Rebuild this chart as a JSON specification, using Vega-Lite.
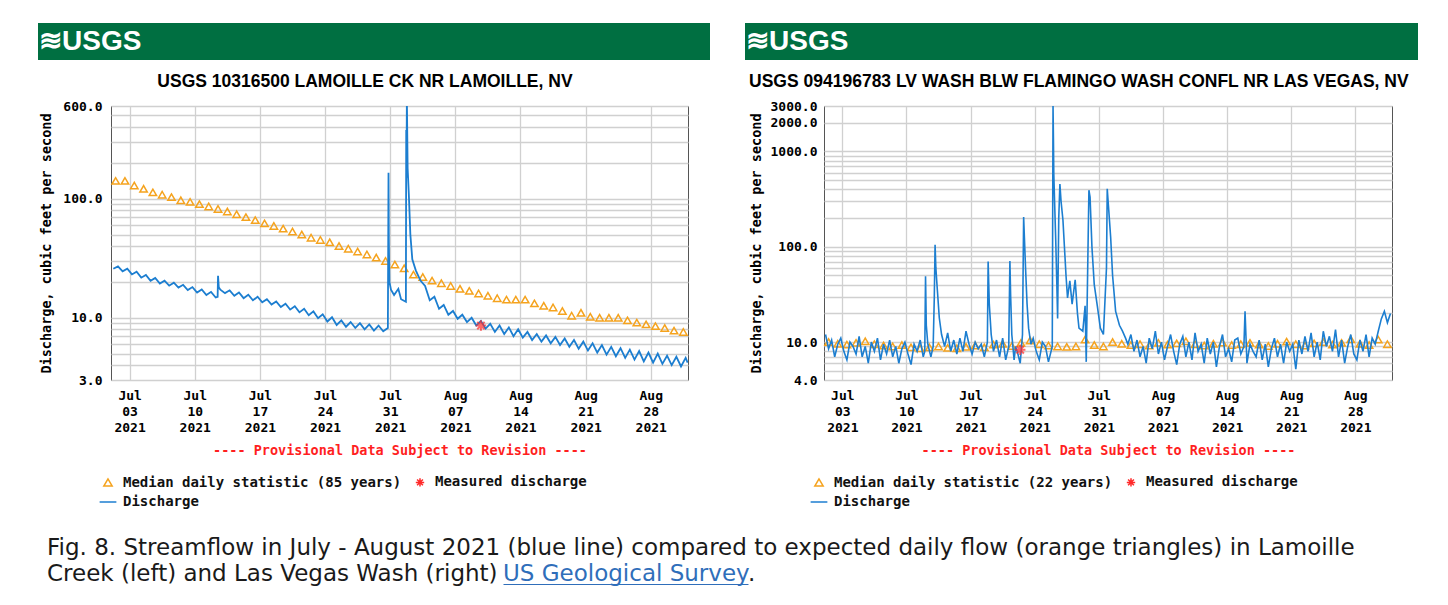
{
"$schema": "https://vega.github.io/schema/vega-lite/v6.json",
"background": "white",
"padding": {"left": 38, "top": 23, "right": 10, "bottom": 5},
"config": {
  "view": {"stroke": "#555", "strokeWidth": 1},
  "axis": {"labelFont": "DejaVu Sans Mono", "labelFontWeight": "bold", "labelColor": "#000", "titleFont": "DejaVu Sans Mono", "titleFontWeight": "bold", "titleColor": "#000", "ticks": false, "domain": false, "gridColor": "#d0d0d0", "gridWidth": 1.3, "labelOverlap": false},
  "legend": {"labelFont": "DejaVu Sans Mono", "labelFontWeight": "bold", "labelFontSize": 14, "labelColor": "#111", "labelLimit": 500}
},
"datasets": {
"qL": [
{"t":"2021-07-01T06:00","q":25.8},{"t":"2021-07-01T18:00","q":27.0},
{"t":"2021-07-02T06:00","q":24.5},{"t":"2021-07-02T18:00","q":25.8},
{"t":"2021-07-03T06:00","q":23.1},{"t":"2021-07-03T18:00","q":24.4},
{"t":"2021-07-04T06:00","q":21.7},{"t":"2021-07-04T18:00","q":22.9},
{"t":"2021-07-05T06:00","q":20.4},{"t":"2021-07-05T18:00","q":21.6},
{"t":"2021-07-06T06:00","q":19.4},{"t":"2021-07-06T18:00","q":20.5},
{"t":"2021-07-07T06:00","q":18.6},{"t":"2021-07-07T18:00","q":19.7},
{"t":"2021-07-08T06:00","q":17.9},{"t":"2021-07-08T18:00","q":18.9},
{"t":"2021-07-09T06:00","q":17.1},{"t":"2021-07-09T18:00","q":18.1},
{"t":"2021-07-10T06:00","q":16.3},{"t":"2021-07-10T18:00","q":17.3},
{"t":"2021-07-11T06:00","q":15.5},{"t":"2021-07-11T18:00","q":16.5},
{"t":"2021-07-12T06:00","q":14.8},{"t":"2021-07-12T11:00","q":15.0},{"t":"2021-07-12T12:00","q":22.5},{"t":"2021-07-12T14:00","q":18.0},{"t":"2021-07-12T18:00","q":17.2},
{"t":"2021-07-13T06:00","q":16.1},{"t":"2021-07-13T18:00","q":17.0},
{"t":"2021-07-14T06:00","q":15.3},{"t":"2021-07-14T18:00","q":16.3},
{"t":"2021-07-15T06:00","q":14.6},{"t":"2021-07-15T18:00","q":15.6},
{"t":"2021-07-16T06:00","q":14.0},{"t":"2021-07-16T18:00","q":15.0},
{"t":"2021-07-17T06:00","q":13.5},{"t":"2021-07-17T18:00","q":14.3},
{"t":"2021-07-18T06:00","q":12.9},{"t":"2021-07-18T18:00","q":13.7},
{"t":"2021-07-19T06:00","q":12.3},{"t":"2021-07-19T18:00","q":13.1},
{"t":"2021-07-20T06:00","q":11.7},{"t":"2021-07-20T18:00","q":12.5},
{"t":"2021-07-21T06:00","q":11.1},{"t":"2021-07-21T18:00","q":11.9},
{"t":"2021-07-22T06:00","q":10.5},{"t":"2021-07-22T18:00","q":11.3},
{"t":"2021-07-23T06:00","q":9.9},{"t":"2021-07-23T18:00","q":10.7},
{"t":"2021-07-24T06:00","q":9.3},{"t":"2021-07-24T18:00","q":10.1},
{"t":"2021-07-25T06:00","q":8.7},{"t":"2021-07-25T18:00","q":9.5},
{"t":"2021-07-26T06:00","q":8.4},{"t":"2021-07-26T18:00","q":9.2},
{"t":"2021-07-27T06:00","q":8.2},{"t":"2021-07-27T18:00","q":9.0},
{"t":"2021-07-28T06:00","q":8.0},{"t":"2021-07-28T18:00","q":8.8},
{"t":"2021-07-29T06:00","q":7.8},{"t":"2021-07-29T18:00","q":8.6},
{"t":"2021-07-30T06:00","q":7.7},{"t":"2021-07-30T18:00","q":8.2},{"t":"2021-07-30T19:40","q":165},{"t":"2021-07-30T20:30","q":45},{"t":"2021-07-30T22:00","q":20},
{"t":"2021-07-31T02:00","q":17.2},{"t":"2021-07-31T10:00","q":15.5},{"t":"2021-07-31T21:00","q":17.5},
{"t":"2021-08-01T04:00","q":14.3},{"t":"2021-08-01T16:30","q":13.6},{"t":"2021-08-01T17:20","q":378},{"t":"2021-08-01T18:00","q":150},{"t":"2021-08-01T19:00","q":700},{"t":"2021-08-01T21:00","q":180},
{"t":"2021-08-02T00:00","q":110},{"t":"2021-08-02T04:00","q":50},{"t":"2021-08-02T09:00","q":31},{"t":"2021-08-02T18:00","q":25},
{"t":"2021-08-03T06:00","q":20.5},{"t":"2021-08-03T18:00","q":18.5},
{"t":"2021-08-04T06:00","q":14.0},{"t":"2021-08-04T18:00","q":15.0},
{"t":"2021-08-05T06:00","q":11.9},{"t":"2021-08-05T18:00","q":12.8},
{"t":"2021-08-06T06:00","q":10.6},{"t":"2021-08-06T18:00","q":11.4},
{"t":"2021-08-07T06:00","q":9.8},{"t":"2021-08-07T18:00","q":10.6},
{"t":"2021-08-08T06:00","q":9.2},{"t":"2021-08-08T18:00","q":10.0},
{"t":"2021-08-09T06:00","q":8.6},{"t":"2021-08-09T18:00","q":9.4},
{"t":"2021-08-10T06:00","q":8.1},{"t":"2021-08-10T18:00","q":8.9},
{"t":"2021-08-11T06:00","q":7.6},{"t":"2021-08-11T18:00","q":8.6},
{"t":"2021-08-12T06:00","q":7.3},{"t":"2021-08-12T18:00","q":8.3},
{"t":"2021-08-13T06:00","q":7.0},{"t":"2021-08-13T18:00","q":8.0},
{"t":"2021-08-14T06:00","q":6.8},{"t":"2021-08-14T18:00","q":7.6},
{"t":"2021-08-15T06:00","q":6.5},{"t":"2021-08-15T18:00","q":7.3},
{"t":"2021-08-16T06:00","q":6.3},{"t":"2021-08-16T18:00","q":7.1},
{"t":"2021-08-17T06:00","q":6.1},{"t":"2021-08-17T18:00","q":6.9},
{"t":"2021-08-18T06:00","q":5.9},{"t":"2021-08-18T18:00","q":6.7},
{"t":"2021-08-19T06:00","q":5.7},{"t":"2021-08-19T18:00","q":6.5},
{"t":"2021-08-20T06:00","q":5.5},{"t":"2021-08-20T18:00","q":6.3},
{"t":"2021-08-21T06:00","q":5.3},{"t":"2021-08-21T18:00","q":6.1},
{"t":"2021-08-22T06:00","q":5.1},{"t":"2021-08-22T18:00","q":5.9},
{"t":"2021-08-23T06:00","q":4.9},{"t":"2021-08-23T18:00","q":5.7},
{"t":"2021-08-24T06:00","q":4.75},{"t":"2021-08-24T18:00","q":5.55},
{"t":"2021-08-25T06:00","q":4.6},{"t":"2021-08-25T18:00","q":5.4},
{"t":"2021-08-26T06:00","q":4.45},{"t":"2021-08-26T18:00","q":5.25},
{"t":"2021-08-27T06:00","q":4.3},{"t":"2021-08-27T18:00","q":5.1},
{"t":"2021-08-28T06:00","q":4.2},{"t":"2021-08-28T18:00","q":5.0},
{"t":"2021-08-29T06:00","q":4.1},{"t":"2021-08-29T18:00","q":4.8},
{"t":"2021-08-30T06:00","q":4.0},{"t":"2021-08-30T18:00","q":4.7},
{"t":"2021-08-31T06:00","q":3.9},{"t":"2021-08-31T18:00","q":4.6},{"t":"2021-08-31T23:00","q":4.2}
],
"mL": [
{"t":"2021-07-01T12:00","q":141},{"t":"2021-07-02T12:00","q":141},{"t":"2021-07-03T12:00","q":129},{"t":"2021-07-04T12:00","q":121},{"t":"2021-07-05T12:00","q":113},{"t":"2021-07-06T12:00","q":108},{"t":"2021-07-07T12:00","q":103},{"t":"2021-07-08T12:00","q":97},{"t":"2021-07-09T12:00","q":94},{"t":"2021-07-10T12:00","q":90},{"t":"2021-07-11T12:00","q":86},{"t":"2021-07-12T12:00","q":82},{"t":"2021-07-13T12:00","q":78},{"t":"2021-07-14T12:00","q":74},{"t":"2021-07-15T12:00","q":70},{"t":"2021-07-16T12:00","q":66},{"t":"2021-07-17T12:00","q":62},{"t":"2021-07-18T12:00","q":59},{"t":"2021-07-19T12:00","q":56},{"t":"2021-07-20T12:00","q":53},{"t":"2021-07-21T12:00","q":50},{"t":"2021-07-22T12:00","q":47},{"t":"2021-07-23T12:00","q":45},{"t":"2021-07-24T12:00","q":43},{"t":"2021-07-25T12:00","q":40},{"t":"2021-07-26T12:00","q":38},{"t":"2021-07-27T12:00","q":36},{"t":"2021-07-28T12:00","q":34},{"t":"2021-07-29T12:00","q":32},{"t":"2021-07-30T12:00","q":30},{"t":"2021-07-31T12:00","q":28},
{"t":"2021-08-01T12:00","q":26},{"t":"2021-08-02T12:00","q":23},{"t":"2021-08-03T12:00","q":22},{"t":"2021-08-04T12:00","q":20.5},{"t":"2021-08-05T12:00","q":19.5},{"t":"2021-08-06T12:00","q":18.5},{"t":"2021-08-07T12:00","q":17.5},{"t":"2021-08-08T12:00","q":16.8},{"t":"2021-08-09T12:00","q":16},{"t":"2021-08-10T12:00","q":15.3},{"t":"2021-08-11T12:00","q":14.6},{"t":"2021-08-12T12:00","q":14.2},{"t":"2021-08-13T12:00","q":14.2},{"t":"2021-08-14T12:00","q":14.2},{"t":"2021-08-15T12:00","q":13.2},{"t":"2021-08-16T12:00","q":12.6},{"t":"2021-08-17T12:00","q":12.2},{"t":"2021-08-18T12:00","q":11.4},{"t":"2021-08-19T12:00","q":10.4},{"t":"2021-08-20T12:00","q":11.0},{"t":"2021-08-21T12:00","q":10.2},{"t":"2021-08-22T12:00","q":10.0},{"t":"2021-08-23T12:00","q":10.0},{"t":"2021-08-24T12:00","q":10.0},{"t":"2021-08-25T12:00","q":9.5},{"t":"2021-08-26T12:00","q":9.1},{"t":"2021-08-27T12:00","q":8.8},{"t":"2021-08-28T12:00","q":8.5},{"t":"2021-08-29T12:00","q":8.2},{"t":"2021-08-30T12:00","q":7.8},{"t":"2021-08-31T12:00","q":7.6}
],
"sL": [{"t":"2021-08-09T18:00","q":8.6}],
"qR": [
{"t":"2021-07-01T04:00","q":12.0},{"t":"2021-07-01T12:00","q":8.5},{"t":"2021-07-01T20:00","q":10.5},
{"t":"2021-07-02T04:00","q":7.0},{"t":"2021-07-02T12:00","q":9.5},{"t":"2021-07-02T20:00","q":11.0},
{"t":"2021-07-03T04:00","q":8.0},{"t":"2021-07-03T12:00","q":6.5},{"t":"2021-07-03T20:00","q":10.0},
{"t":"2021-07-04T04:00","q":9.0},{"t":"2021-07-04T12:00","q":7.5},{"t":"2021-07-04T20:00","q":11.5},
{"t":"2021-07-05T04:00","q":7.0},{"t":"2021-07-05T12:00","q":9.0},{"t":"2021-07-05T20:00","q":6.0},
{"t":"2021-07-06T04:00","q":10.0},{"t":"2021-07-06T12:00","q":8.0},{"t":"2021-07-06T20:00","q":11.0},
{"t":"2021-07-07T04:00","q":6.5},{"t":"2021-07-07T12:00","q":9.5},{"t":"2021-07-07T20:00","q":7.5},
{"t":"2021-07-08T04:00","q":10.5},{"t":"2021-07-08T12:00","q":7.0},{"t":"2021-07-08T20:00","q":9.0},
{"t":"2021-07-09T04:00","q":6.0},{"t":"2021-07-09T12:00","q":8.5},{"t":"2021-07-09T20:00","q":10.0},
{"t":"2021-07-10T04:00","q":7.5},{"t":"2021-07-10T12:00","q":5.8},{"t":"2021-07-10T20:00","q":9.5},
{"t":"2021-07-11T04:00","q":8.0},{"t":"2021-07-11T12:00","q":10.5},{"t":"2021-07-11T20:00","q":7.0},
{"t":"2021-07-12T00:00","q":8.0},{"t":"2021-07-12T02:00","q":49},{"t":"2021-07-12T04:00","q":15},{"t":"2021-07-12T08:00","q":9.5},{"t":"2021-07-12T16:00","q":7.0},{"t":"2021-07-12T22:00","q":9.0},
{"t":"2021-07-13T01:00","q":30},{"t":"2021-07-13T03:00","q":105},{"t":"2021-07-13T05:00","q":60},{"t":"2021-07-13T09:00","q":35},{"t":"2021-07-13T14:00","q":18},{"t":"2021-07-13T20:00","q":12},
{"t":"2021-07-14T04:00","q":9.0},{"t":"2021-07-14T12:00","q":12.5},{"t":"2021-07-14T20:00","q":8.0},
{"t":"2021-07-15T04:00","q":10.5},{"t":"2021-07-15T12:00","q":7.5},{"t":"2021-07-15T20:00","q":11.0},
{"t":"2021-07-16T04:00","q":8.0},{"t":"2021-07-16T12:00","q":13.0},{"t":"2021-07-16T20:00","q":9.5},
{"t":"2021-07-17T04:00","q":7.5},{"t":"2021-07-17T12:00","q":10.0},{"t":"2021-07-17T20:00","q":8.5},
{"t":"2021-07-18T04:00","q":9.5},{"t":"2021-07-18T12:00","q":7.0},{"t":"2021-07-18T20:00","q":10.0},{"t":"2021-07-18T22:00","q":70},
{"t":"2021-07-19T01:00","q":25},{"t":"2021-07-19T06:00","q":12},{"t":"2021-07-19T12:00","q":8.0},{"t":"2021-07-19T20:00","q":10.5},
{"t":"2021-07-20T04:00","q":7.0},{"t":"2021-07-20T12:00","q":11.0},{"t":"2021-07-20T20:00","q":6.5},
{"t":"2021-07-21T04:00","q":9.0},{"t":"2021-07-21T07:00","q":71},{"t":"2021-07-21T09:00","q":30},{"t":"2021-07-21T12:00","q":12},{"t":"2021-07-21T18:00","q":6.5},{"t":"2021-07-21T22:00","q":9.0},
{"t":"2021-07-22T04:00","q":7.5},{"t":"2021-07-22T10:00","q":6.0},{"t":"2021-07-22T16:00","q":12},{"t":"2021-07-22T19:00","q":205},{"t":"2021-07-22T21:00","q":125},
{"t":"2021-07-23T00:00","q":60},{"t":"2021-07-23T04:00","q":25},{"t":"2021-07-23T08:00","q":14},{"t":"2021-07-23T14:00","q":9.5},{"t":"2021-07-23T20:00","q":11},
{"t":"2021-07-24T04:00","q":8.0},{"t":"2021-07-24T12:00","q":6.5},{"t":"2021-07-24T20:00","q":10.0},
{"t":"2021-07-25T04:00","q":9.0},{"t":"2021-07-25T12:00","q":6.2},{"t":"2021-07-25T22:00","q":9.0},
{"t":"2021-07-26T00:00","q":3000},{"t":"2021-07-26T01:00","q":1400},{"t":"2021-07-26T02:00","q":580},{"t":"2021-07-26T04:00","q":306},{"t":"2021-07-26T07:00","q":120},{"t":"2021-07-26T10:00","q":40},{"t":"2021-07-26T12:00","q":17.7},{"t":"2021-07-26T15:00","q":200},{"t":"2021-07-26T18:00","q":456},{"t":"2021-07-26T21:00","q":300},
{"t":"2021-07-27T02:00","q":190},{"t":"2021-07-27T10:00","q":50},{"t":"2021-07-27T14:00","q":29},{"t":"2021-07-27T20:00","q":44},
{"t":"2021-07-28T02:00","q":25},{"t":"2021-07-28T10:00","q":45},{"t":"2021-07-28T16:00","q":20},{"t":"2021-07-28T20:00","q":14},
{"t":"2021-07-29T06:00","q":13},{"t":"2021-07-29T12:00","q":24},{"t":"2021-07-29T15:00","q":6.2},{"t":"2021-07-29T22:00","q":392},
{"t":"2021-07-30T01:00","q":332},{"t":"2021-07-30T06:00","q":98},{"t":"2021-07-30T12:00","q":40},{"t":"2021-07-30T20:00","q":24},
{"t":"2021-07-31T04:00","q":14},{"t":"2021-07-31T12:00","q":12},{"t":"2021-07-31T20:00","q":60},{"t":"2021-07-31T22:00","q":405},
{"t":"2021-08-01T02:00","q":242},{"t":"2021-08-01T07:00","q":125},{"t":"2021-08-01T12:00","q":50},{"t":"2021-08-01T20:00","q":21},
{"t":"2021-08-02T06:00","q":15},{"t":"2021-08-02T14:00","q":13},{"t":"2021-08-02T22:00","q":11},
{"t":"2021-08-03T04:00","q":9.5},{"t":"2021-08-03T12:00","q":12.0},{"t":"2021-08-03T20:00","q":8.0},
{"t":"2021-08-04T04:00","q":10.5},{"t":"2021-08-04T12:00","q":7.0},{"t":"2021-08-04T20:00","q":9.0},
{"t":"2021-08-05T04:00","q":6.0},{"t":"2021-08-05T12:00","q":11.0},{"t":"2021-08-05T20:00","q":8.5},
{"t":"2021-08-06T04:00","q":13.0},{"t":"2021-08-06T12:00","q":7.5},{"t":"2021-08-06T20:00","q":10.0},
{"t":"2021-08-07T04:00","q":6.5},{"t":"2021-08-07T12:00","q":9.0},{"t":"2021-08-07T20:00","q":12.0},
{"t":"2021-08-08T04:00","q":8.0},{"t":"2021-08-08T12:00","q":5.8},{"t":"2021-08-08T20:00","q":9.5},
{"t":"2021-08-09T04:00","q":11.5},{"t":"2021-08-09T12:00","q":7.0},{"t":"2021-08-09T20:00","q":10.0},
{"t":"2021-08-10T04:00","q":6.5},{"t":"2021-08-10T12:00","q":12.5},{"t":"2021-08-10T20:00","q":8.0},
{"t":"2021-08-11T04:00","q":9.5},{"t":"2021-08-11T12:00","q":6.0},{"t":"2021-08-11T20:00","q":11.0},
{"t":"2021-08-12T04:00","q":7.5},{"t":"2021-08-12T12:00","q":10.0},{"t":"2021-08-12T20:00","q":5.5},
{"t":"2021-08-13T04:00","q":9.0},{"t":"2021-08-13T12:00","q":12.0},{"t":"2021-08-13T20:00","q":7.0},
{"t":"2021-08-14T04:00","q":8.5},{"t":"2021-08-14T12:00","q":6.2},{"t":"2021-08-14T20:00","q":10.5},
{"t":"2021-08-15T04:00","q":11.0},{"t":"2021-08-15T12:00","q":7.5},{"t":"2021-08-15T20:00","q":9.0},{"t":"2021-08-15T23:00","q":21},
{"t":"2021-08-16T04:00","q":6.0},{"t":"2021-08-16T12:00","q":9.5},{"t":"2021-08-16T20:00","q":8.0},
{"t":"2021-08-17T04:00","q":7.0},{"t":"2021-08-17T12:00","q":10.5},{"t":"2021-08-17T20:00","q":6.5},
{"t":"2021-08-18T04:00","q":9.5},{"t":"2021-08-18T12:00","q":5.5},{"t":"2021-08-18T20:00","q":8.5},
{"t":"2021-08-19T04:00","q":11.0},{"t":"2021-08-19T12:00","q":7.0},{"t":"2021-08-19T20:00","q":9.5},
{"t":"2021-08-20T04:00","q":6.0},{"t":"2021-08-20T12:00","q":10.0},{"t":"2021-08-20T20:00","q":8.0},
{"t":"2021-08-21T04:00","q":9.5},{"t":"2021-08-21T12:00","q":5.2},{"t":"2021-08-21T20:00","q":10.5},
{"t":"2021-08-22T04:00","q":7.5},{"t":"2021-08-22T12:00","q":11.5},{"t":"2021-08-22T20:00","q":8.0},
{"t":"2021-08-23T04:00","q":12.5},{"t":"2021-08-23T12:00","q":7.0},{"t":"2021-08-23T20:00","q":10.0},
{"t":"2021-08-24T04:00","q":6.5},{"t":"2021-08-24T12:00","q":13.0},{"t":"2021-08-24T20:00","q":9.0},
{"t":"2021-08-25T04:00","q":11.5},{"t":"2021-08-25T12:00","q":8.0},{"t":"2021-08-25T20:00","q":13.5},
{"t":"2021-08-26T04:00","q":7.0},{"t":"2021-08-26T12:00","q":10.5},{"t":"2021-08-26T20:00","q":6.0},
{"t":"2021-08-27T04:00","q":9.0},{"t":"2021-08-27T12:00","q":12.0},{"t":"2021-08-27T20:00","q":7.5},
{"t":"2021-08-28T04:00","q":6.5},{"t":"2021-08-28T12:00","q":10.5},{"t":"2021-08-28T20:00","q":8.0},
{"t":"2021-08-29T04:00","q":12.0},{"t":"2021-08-29T12:00","q":7.0},{"t":"2021-08-29T20:00","q":11.0},
{"t":"2021-08-30T04:00","q":9.5},{"t":"2021-08-30T12:00","q":13.0},{"t":"2021-08-30T20:00","q":17.5},
{"t":"2021-08-31T04:00","q":21.0},{"t":"2021-08-31T12:00","q":16.0},{"t":"2021-08-31T20:00","q":20.0}
],
"mR": [
{"t":"2021-07-01T12:00","q":10.0},{"t":"2021-07-02T12:00","q":9.6},{"t":"2021-07-03T12:00","q":9.4},{"t":"2021-07-04T12:00","q":9.8},{"t":"2021-07-05T12:00","q":10.2},{"t":"2021-07-06T12:00","q":9.5},{"t":"2021-07-07T12:00","q":9.2},{"t":"2021-07-08T12:00","q":9.0},{"t":"2021-07-09T12:00","q":9.3},{"t":"2021-07-10T12:00","q":8.8},{"t":"2021-07-11T12:00","q":8.6},{"t":"2021-07-12T12:00","q":8.8},{"t":"2021-07-13T12:00","q":9.0},{"t":"2021-07-14T12:00","q":8.7},{"t":"2021-07-15T12:00","q":8.6},{"t":"2021-07-16T12:00","q":8.9},{"t":"2021-07-17T12:00","q":9.2},{"t":"2021-07-18T12:00","q":8.8},{"t":"2021-07-19T12:00","q":9.4},{"t":"2021-07-20T12:00","q":9.6},{"t":"2021-07-21T12:00","q":9.1},{"t":"2021-07-22T12:00","q":9.8},{"t":"2021-07-23T12:00","q":10.4},{"t":"2021-07-24T12:00","q":9.5},{"t":"2021-07-25T12:00","q":9.2},{"t":"2021-07-26T12:00","q":9.0},{"t":"2021-07-27T12:00","q":8.9},{"t":"2021-07-28T12:00","q":9.0},{"t":"2021-07-29T12:00","q":10.6},{"t":"2021-07-30T12:00","q":9.3},{"t":"2021-07-31T12:00","q":9.0},
{"t":"2021-08-01T12:00","q":10.0},{"t":"2021-08-02T12:00","q":9.6},{"t":"2021-08-03T12:00","q":9.3},{"t":"2021-08-04T12:00","q":9.5},{"t":"2021-08-05T12:00","q":9.2},{"t":"2021-08-06T12:00","q":9.8},{"t":"2021-08-07T12:00","q":9.4},{"t":"2021-08-08T12:00","q":9.7},{"t":"2021-08-09T12:00","q":10.2},{"t":"2021-08-10T12:00","q":9.5},{"t":"2021-08-11T12:00","q":9.2},{"t":"2021-08-12T12:00","q":9.6},{"t":"2021-08-13T12:00","q":9.9},{"t":"2021-08-14T12:00","q":9.3},{"t":"2021-08-15T12:00","q":9.5},{"t":"2021-08-16T12:00","q":9.8},{"t":"2021-08-17T12:00","q":9.4},{"t":"2021-08-18T12:00","q":9.1},{"t":"2021-08-19T12:00","q":9.6},{"t":"2021-08-20T12:00","q":10.1},{"t":"2021-08-21T12:00","q":9.5},{"t":"2021-08-22T12:00","q":9.2},{"t":"2021-08-23T12:00","q":9.7},{"t":"2021-08-24T12:00","q":10.0},{"t":"2021-08-25T12:00","q":9.4},{"t":"2021-08-26T12:00","q":9.8},{"t":"2021-08-27T12:00","q":10.7},{"t":"2021-08-28T12:00","q":9.6},{"t":"2021-08-29T12:00","q":9.3},{"t":"2021-08-30T12:00","q":10.6},{"t":"2021-08-31T12:00","q":9.5}
],
"sR": [{"t":"2021-07-22T10:00","q":8.3}]
},
"vconcat": [
{
"vconcat": [
{
"hconcat": [
{
"width": 672, "height": 37,
"view": {"fill": "#006F41", "stroke": null},
"data": {"values": [{}]},
"mark": {"type": "text", "align": "left", "baseline": "middle", "color": "#ffffff", "font": "Liberation Sans", "fontWeight": "bold", "fontSize": 28, "dx": 1},
"encoding": {"text": {"value": "≋USGS"}, "x": {"datum": 0, "type": "quantitative", "scale": {"domain": [0, 1]}, "axis": null}}
},
{
"width": 673, "height": 37,
"view": {"fill": "#006F41", "stroke": null},
"data": {"values": [{}]},
"mark": {"type": "text", "align": "left", "baseline": "middle", "color": "#ffffff", "font": "Liberation Sans", "fontWeight": "bold", "fontSize": 28, "dx": 1},
"encoding": {"text": {"value": "≋USGS"}, "x": {"datum": 0, "type": "quantitative", "scale": {"domain": [0, 1]}, "axis": null}}
}
],
"spacing": 35
},
{
"hconcat": [
{"width": 1, "height": 1, "view": {"stroke": null}, "data": {"values": [{}]}, "mark": {"type": "text", "text": ""}},
{
"hconcat": [
{
"width": 577, "height": 274,
"title": {"text": "USGS 10316500 LAMOILLE CK NR LAMOILLE, NV", "font": "Liberation Sans", "fontSize": 17.5, "fontWeight": "bold", "color": "#000", "offset": 10, "anchor": "middle", "frame": "bounds"},
"layer": [
{
"data": {"name": "mL"},
"mark": {"type": "point", "filled": false, "size": 55, "strokeWidth": 1.5, "opacity": 1},
"encoding": {
"x": {"field": "t", "type": "temporal", "scale": {"domain": [{"year": 2021, "month": 7, "date": 1}, {"year": 2021, "month": 9, "date": 1}], "nice": false},
  "axis": {"values": [{"year": 2021, "month": 7, "date": 3}, {"year": 2021, "month": 7, "date": 10}, {"year": 2021, "month": 7, "date": 17}, {"year": 2021, "month": 7, "date": 24}, {"year": 2021, "month": 7, "date": 31}, {"year": 2021, "month": 8, "date": 7}, {"year": 2021, "month": 8, "date": 14}, {"year": 2021, "month": 8, "date": 21}, {"year": 2021, "month": 8, "date": 28}],
  "grid": true, "labelExpr": "[timeFormat(datum.value, '%b'), timeFormat(datum.value, '%d'), timeFormat(datum.value, '%Y')]", "labelFontSize": 13, "labelLineHeight": 16, "labelBaseline": "top", "labelPadding": 9, "labelFlush": false,
  "title": "---- Provisional Data Subject to Revision ----", "titleColor": "#ff1f1f", "titleFontSize": 13.5, "titlePadding": 9}},
"y": {"field": "q", "type": "quantitative", "scale": {"type": "log", "domain": [3, 600], "nice": false},
  "axis": {"values": [3,4,5,6,7,8,9,10,20,30,40,50,60,70,80,90,100,200,300,400,500,600], "grid": true, "labelExpr": "indexof([3,10,100,600], datum.value) >= 0 ? format(datum.value, '.1f') : ''", "labelFontSize": 13, "labelPadding": 9, "title": "Discharge, cubic feet per second", "titleFontSize": 13.5, "titlePadding": 9}},
"color": {"datum": "Median daily statistic (85 years)", "type": "nominal",
  "scale": {"domain": ["Median daily statistic (85 years)", "Measured discharge", "Discharge"], "range": ["#F5A31E", "#FF2A2A", "#1C7ED0"]},
  "legend": {"title": null, "orient": "none", "legendX": -10, "legendY": 369, "direction": "horizontal", "columns": 2, "columnPadding": 10, "rowPadding": 5, "symbolSize": 70, "symbolStrokeWidth": 1.5, "labelOffset": 8}},
"shape": {"datum": "Median daily statistic (85 years)", "type": "nominal",
  "scale": {"domain": ["Median daily statistic (85 years)", "Measured discharge", "Discharge"], "range": ["triangle-up", "M-1,0L1,0M0,-1L0,1M-0.7,-0.7L0.7,0.7M-0.7,0.7L0.7,-0.7", "M-2,0L2,0"]}}
}
},
{
"data": {"name": "qL"},
"mark": {"type": "line", "strokeWidth": 1.8, "clip": true},
"encoding": {
"x": {"field": "t", "type": "temporal"},
"y": {"field": "q", "type": "quantitative"},
"color": {"datum": "Discharge", "type": "nominal"}
}
},
{
"data": {"name": "sL"},
"mark": {"type": "point", "filled": false, "size": 110, "strokeWidth": 2},
"encoding": {
"x": {"field": "t", "type": "temporal"},
"y": {"field": "q", "type": "quantitative"},
"color": {"datum": "Measured discharge", "type": "nominal"},
"shape": {"datum": "Measured discharge", "type": "nominal"}
}
}
]
},
{
"width": 568, "height": 274,
"title": {"text": "USGS 094196783 LV WASH BLW FLAMINGO WASH CONFL NR LAS VEGAS, NV", "font": "Liberation Sans", "fontSize": 17.5, "fontWeight": "bold", "color": "#000", "offset": 10, "anchor": "start", "frame": "bounds"},
"layer": [
{
"data": {"name": "mR"},
"mark": {"type": "point", "filled": false, "size": 55, "strokeWidth": 1.5, "opacity": 1},
"encoding": {
"x": {"field": "t", "type": "temporal", "scale": {"domain": [{"year": 2021, "month": 7, "date": 1}, {"year": 2021, "month": 9, "date": 1}], "nice": false},
  "axis": {"values": [{"year": 2021, "month": 7, "date": 3}, {"year": 2021, "month": 7, "date": 10}, {"year": 2021, "month": 7, "date": 17}, {"year": 2021, "month": 7, "date": 24}, {"year": 2021, "month": 7, "date": 31}, {"year": 2021, "month": 8, "date": 7}, {"year": 2021, "month": 8, "date": 14}, {"year": 2021, "month": 8, "date": 21}, {"year": 2021, "month": 8, "date": 28}],
  "grid": true, "labelExpr": "[timeFormat(datum.value, '%b'), timeFormat(datum.value, '%d'), timeFormat(datum.value, '%Y')]", "labelFontSize": 13, "labelLineHeight": 16, "labelBaseline": "top", "labelPadding": 9, "labelFlush": false,
  "title": "---- Provisional Data Subject to Revision ----", "titleColor": "#ff1f1f", "titleFontSize": 13.5, "titlePadding": 9}},
"y": {"field": "q", "type": "quantitative", "scale": {"type": "log", "domain": [4, 3000], "nice": false},
  "axis": {"values": [4,5,6,7,8,9,10,20,30,40,50,60,70,80,90,100,200,300,400,500,600,700,800,900,1000,2000,3000], "grid": true, "labelExpr": "indexof([4,10,100,1000,2000,3000], datum.value) >= 0 ? format(datum.value, '.1f') : ''", "labelFontSize": 13, "labelPadding": 7, "title": "Discharge, cubic feet per second", "titleFontSize": 13.5, "titlePadding": 7}},
"color": {"datum": "Median daily statistic (22 years)", "type": "nominal",
  "scale": {"domain": ["Median daily statistic (22 years)", "Measured discharge", "Discharge"], "range": ["#F5A31E", "#FF2A2A", "#1C7ED0"]},
  "legend": {"title": null, "orient": "none", "legendX": -12, "legendY": 369, "direction": "horizontal", "columns": 2, "columnPadding": 10, "rowPadding": 5, "symbolSize": 70, "symbolStrokeWidth": 1.5, "labelOffset": 8}},
"shape": {"datum": "Median daily statistic (22 years)", "type": "nominal",
  "scale": {"domain": ["Median daily statistic (22 years)", "Measured discharge", "Discharge"], "range": ["triangle-up", "M-1,0L1,0M0,-1L0,1M-0.7,-0.7L0.7,0.7M-0.7,0.7L0.7,-0.7", "M-2,0L2,0"]}}
}
},
{
"data": {"name": "qR"},
"mark": {"type": "line", "strokeWidth": 1.6, "clip": true},
"encoding": {
"x": {"field": "t", "type": "temporal"},
"y": {"field": "q", "type": "quantitative"},
"color": {"datum": "Discharge", "type": "nominal"}
}
},
{
"data": {"name": "sR"},
"mark": {"type": "point", "filled": false, "size": 110, "strokeWidth": 2},
"encoding": {
"x": {"field": "t", "type": "temporal"},
"y": {"field": "q", "type": "quantitative"},
"color": {"datum": "Measured discharge", "type": "nominal"},
"shape": {"datum": "Measured discharge", "type": "nominal"}
}
}
]
}
],
"spacing": 57,
"resolve": {"scale": {"x": "independent", "y": "independent", "color": "independent", "shape": "independent"}, "legend": {"color": "independent", "shape": "independent"}}
}
],
"spacing": 0,
"resolve": {"scale": {"color": "independent", "shape": "independent"}, "legend": {"color": "independent", "shape": "independent"}}
}
],
"spacing": 12,
"resolve": {"scale": {"color": "independent", "shape": "independent"}, "legend": {"color": "independent", "shape": "independent"}}
},
{
"hconcat": [
{"width": 9, "height": 72, "view": {"stroke": null}, "data": {"values": [{}]}, "mark": {"type": "text", "text": ""}},
{"width": 456, "height": 72, "view": {"stroke": null}, "data": {"values": [{}]},
 "mark": {"type": "text", "align": "left", "baseline": "middle", "lineHeight": 26, "font": "DejaVu Sans", "fontSize": 23, "color": "#1a1a1a"},
 "encoding": {"text": {"value": ["Fig. 8. Streamflow in July - August 2021 (blue line) compared to expected daily flow (orange triangles) in Lamoille", "Creek (left) and Las Vegas Wash (right)"]}, "x": {"datum": 0, "type": "quantitative", "scale": {"domain": [0, 1]}, "axis": null}}},
{"width": 245, "height": 72, "view": {"stroke": "#2F6EBA", "strokeWidth": 1, "strokeDash": [0, 317, 245, 72]}, "data": {"values": [{}]},
 "mark": {"type": "text", "align": "left", "baseline": "middle", "lineHeight": 26, "font": "DejaVu Sans", "fontSize": 23, "color": "#2F6EBA"},
 "encoding": {"text": {"value": ["", "US Geological Survey"]}, "x": {"datum": 0, "type": "quantitative", "scale": {"domain": [0, 1]}, "axis": null}}},
{"width": 10, "height": 72, "view": {"stroke": null}, "data": {"values": [{}]},
 "mark": {"type": "text", "align": "left", "baseline": "middle", "lineHeight": 26, "font": "DejaVu Sans", "fontSize": 23, "color": "#1a1a1a"},
 "encoding": {"text": {"value": ["", "."]}, "x": {"datum": 0, "type": "quantitative", "scale": {"domain": [0, 1]}, "axis": null}}}
],
"spacing": 0,
"bounds": "flush"
}
],
"spacing": 1,
"resolve": {"scale": {"color": "independent", "shape": "independent"}, "legend": {"color": "independent", "shape": "independent"}}
}
